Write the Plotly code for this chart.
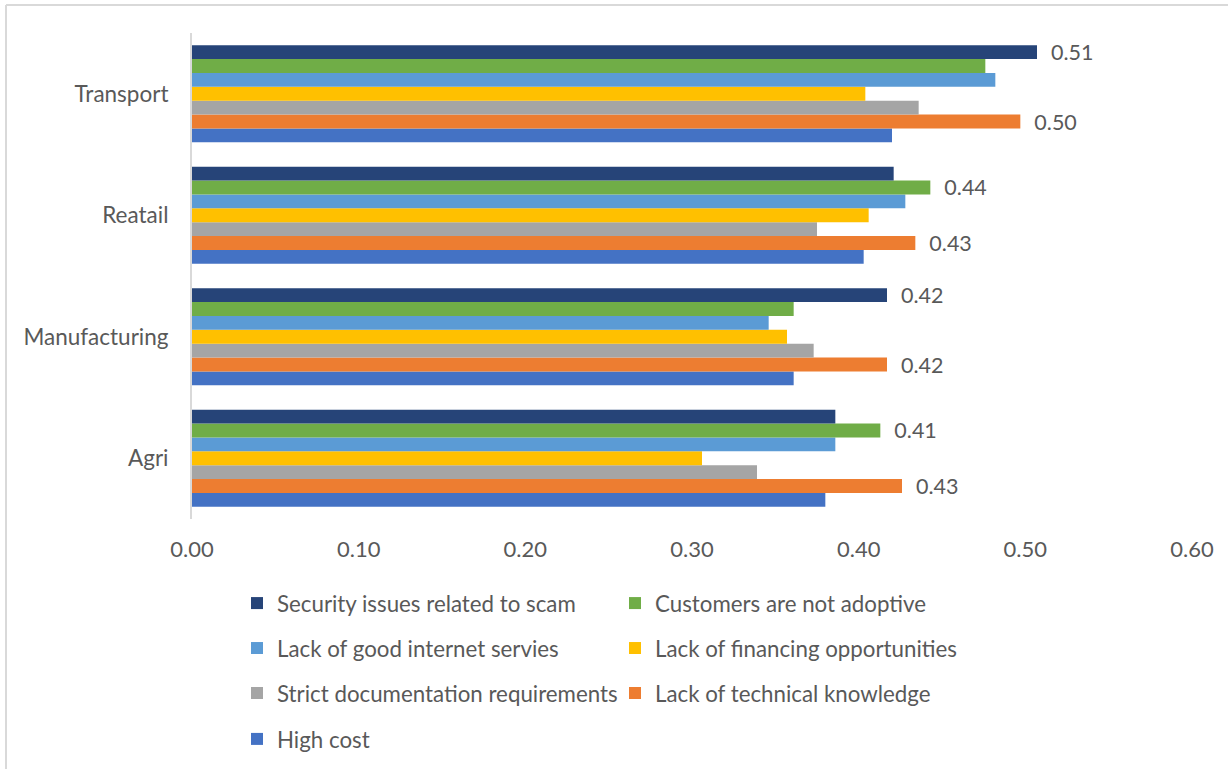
import plotly.graph_objects as go

# Sectors, listed bottom to top on the category axis
sectors = ["Agri", "Manufacturing", "Reatail", "Transport"]

# Share of firms citing each barrier, per sector (Agri, Manufacturing, Reatail, Transport)
high_cost = [0.380, 0.361, 0.403, 0.420]
technical_knowledge = [0.426, 0.417, 0.434, 0.497]
strict_documentation = [0.339, 0.373, 0.375, 0.436]
financing = [0.306, 0.357, 0.406, 0.404]
internet = [0.386, 0.346, 0.428, 0.482]
customers_not_adoptive = [0.413, 0.361, 0.443, 0.476]
security_scam = [0.386, 0.417, 0.421, 0.507]

series = [
    ("High cost", high_cost, "#4472C4"),
    ("Lack of technical knowledge", technical_knowledge, "#ED7D31"),
    ("Strict documentation requirements", strict_documentation, "#A5A5A5"),
    ("Lack of financing opportunities", financing, "#FFC000"),
    ("Lack of good internet servies", internet, "#5B9BD5"),
    ("Customers are not adoptive", customers_not_adoptive, "#70AD47"),
    ("Security issues related to scam", security_scam, "#264478"),
]

# Legend rows (two entries per row, read left to right, top to bottom)
legend_rows = [
    ["Security issues related to scam", "Customers are not adoptive"],
    ["Lack of good internet servies", "Lack of financing opportunities"],
    ["Strict documentation requirements", "Lack of technical knowledge"],
    ["High cost"],
]

FONT = "Lato"
TEXT = "#595959"

# Value labels are shown for the two highest barriers in each sector
top_two = {}
for i, sec in enumerate(sectors):
    vals = sorted(((s[1][i], s[0]) for s in series), reverse=True)[:2]
    top_two[sec] = {name for _, name in vals}

legend_of = {}
for r, row in enumerate(legend_rows):
    for name in row:
        legend_of[name] = "legend" if r == 0 else f"legend{r + 1}"

fig = go.Figure()
for name, vals, color in series:
    labels = [
        "\u00a0\u00a0" + f"{v:.2f}" if name in top_two[sec] else ""
        for sec, v in zip(sectors, vals)
    ]
    fig.add_trace(go.Bar(
        y=sectors, x=vals, name=name, orientation="h",
        marker=dict(color=color, line=dict(width=0)),
        text=labels, textposition="outside", constraintext="none",
        textfont=dict(family=FONT, size=21.5, color=TEXT),
        cliponaxis=False,
        legend=legend_of[name],
        legendrank=[n for row in legend_rows for n in row].index(name) + 1,
    ))

# Plot area spans 192..1192 px horizontally and 33..519 px vertically
row_y = [-0.173, -0.2655, -0.358, -0.4525]
legend_common = dict(
    orientation="h", xanchor="left", yanchor="middle", x=0.045,
    font=dict(family=FONT, size=22.3, color=TEXT),
    entrywidth=333, entrywidthmode="pixels",
    bgcolor="rgba(0,0,0,0)", itemclick=False, itemdoubleclick=False,
    traceorder="normal",
)
legends = {}
for r, yv in enumerate(row_y):
    key = "legend" if r == 0 else f"legend{r + 1}"
    legends[key] = dict(legend_common, y=yv)

fig.update_layout(
    width=1228, height=769,
    margin=dict(l=192, r=36, t=33, b=250, autoexpand=False),
    paper_bgcolor="white", plot_bgcolor="white",
    barmode="group", bargap=0.2, bargroupgap=0,
    font=dict(family=FONT, color=TEXT),
    showlegend=True,
    xaxis=dict(
        range=[0, 0.6], dtick=0.1, tickformat=".2f",
        showgrid=False, zeroline=False, showline=False,
        ticks="", ticklen=0, ticklabelstandoff=15,
        tickfont=dict(family=FONT, size=22, color=TEXT),
    ),
    yaxis=dict(
        categoryorder="array", categoryarray=sectors,
        showgrid=False, zeroline=False,
        showline=True, linecolor="#D9D9D9", linewidth=2,
        ticks="", ticklabelstandoff=17,
        tickfont=dict(family=FONT, size=22.5, color=TEXT),
    ),
    shapes=[
        # chart frame (top and left edges)
        dict(type="line", xref="paper", yref="paper", x0=-0.186, x1=1.04,
             y0=1.0576, y1=1.0576, line=dict(color="#D9D9D9", width=2)),
        dict(type="line", xref="paper", yref="paper", x0=-0.186, x1=-0.186,
             y0=1.0576, y1=-0.52, line=dict(color="#D9D9D9", width=2)),
    ],
    **legends,
)

fig.write_html("out.html")
